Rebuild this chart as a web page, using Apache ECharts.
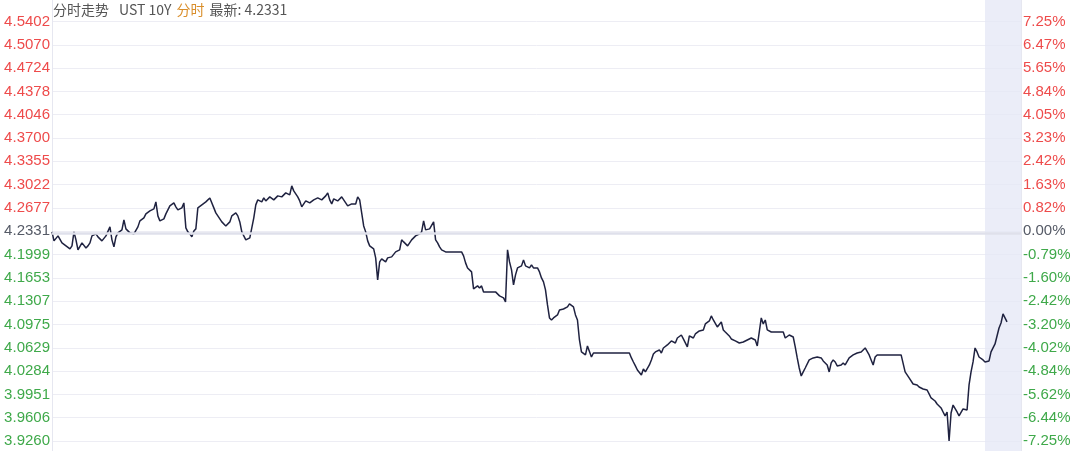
<!DOCTYPE html>
<html>
<head>
<meta charset="utf-8">
<script src="https://cdn.jsdelivr.net/npm/echarts@6/dist/echarts.min.js"></script>
<style>
html,body{margin:0;padding:0;background:#fff;}
#c{width:1080px;height:451px;}
</style>
</head>
<body>
<div id="c"></div>
<script>
// ---- data ----
const prevClose = 4.2331;
const yMin = 3.9260;
const yMax = 4.5402;
const leftTickLabels = ['4.5402','4.5070','4.4724','4.4378','4.4046','4.3700','4.3355','4.3022','4.2677','4.2331','4.1999','4.1653','4.1307','4.0975','4.0629','4.0284','3.9951','3.9606','3.9260'];
const rightTickLabels = ['7.25%','6.47%','5.65%','4.84%','4.05%','3.23%','2.42%','1.63%','0.82%','0.00%','-0.79%','-1.60%','-2.42%','-3.20%','-4.02%','-4.84%','-5.62%','-6.44%','-7.25%'];
const slotCount = 486;           // time slots across the axis
const shadeStartSlot = 467;      // shaded tail of the session
const yieldValues = [
4.2322,4.2190,4.2205,4.2263,4.2234,4.2161,4.2175,4.2117,4.2102,4.2073,
4.2117,4.2322,4.2205,4.2058,4.2087,4.2161,4.2146,4.2087,4.2117,4.2161,
4.2263,4.2234,4.2292,4.2249,4.2249,4.2190,4.2205,4.2263,4.2249,4.2395,
4.2205,4.2102,4.2249,4.2307,4.2278,4.2351,4.2497,4.2366,4.2351,4.2307,
4.2336,4.2292,4.2307,4.2395,4.2483,4.2468,4.2527,4.2585,4.2585,4.2629,
4.2644,4.2658,4.2761,4.2556,4.2483,4.2468,4.2512,4.2585,4.2614,4.2702,
4.2717,4.2746,4.2688,4.2644,4.2629,4.2673,4.2746,4.2380,4.2322,4.2292,
4.2249,4.2336,4.2366,4.2673,4.2702,4.2717,4.2731,4.2761,4.2746,4.2819,
4.2805,4.2673,4.2600,4.2556,4.2527,4.2468,4.2468,4.2409,4.2424,4.2468,
4.2556,4.2585,4.2600,4.2556,4.2468,4.2322,4.2263,4.2205,4.2190,4.2234,
4.2263,4.2527,4.2717,4.2790,4.2790,4.2761,4.2819,4.2775,4.2775,4.2834,
4.2834,4.2790,4.2805,4.2849,4.2878,4.2834,4.2849,4.2893,4.2893,4.2863,
4.2995,4.2922,4.2878,4.2834,4.2775,4.2688,4.2688,4.2775,4.2790,4.2746,
4.2761,4.2790,4.2790,4.2819,4.2819,4.2790,4.2805,4.2849,4.2893,4.2790,
4.2731,4.2805,4.2819,4.2775,4.2775,4.2834,4.2834,4.2746,4.2702,4.2688,
4.2731,4.2717,4.2731,4.2834,4.2790,4.2600,4.2409,4.2322,4.2190,4.2117,
4.2131,4.2073,4.1941,4.1619,4.1882,4.1926,4.1912,4.1882,4.1941,4.1926,
4.1956,4.1985,4.2029,4.2014,4.2058,4.2205,4.2175,4.2146,4.2117,4.2102,
4.2205,4.2234,4.2263,4.2263,4.2292,4.2322,4.2483,4.2351,4.2336,4.2366,
4.2380,4.2468,4.2205,4.2161,4.2102,4.2058,4.2043,4.2029,4.2029,4.2029,
4.2029,4.2029,4.2029,4.2029,4.2029,4.2029,4.1970,4.1868,4.1794,4.1765,
4.1736,4.1487,4.1458,4.1531,4.1501,4.1531,4.1443,4.1443,4.1443,4.1443,
4.1443,4.1443,4.1443,4.1472,4.1385,4.1399,4.1355,4.1296,4.2058,4.1882,
4.1765,4.1545,4.1692,4.1794,4.1765,4.1824,4.1912,4.1824,4.1824,4.1794,
4.1839,4.1794,4.1765,4.1794,4.1736,4.1648,4.1589,4.1472,4.1252,4.1062,
4.1032,4.1062,4.1091,4.1106,4.1179,4.1150,4.1193,4.1208,4.1223,4.1267,
4.1252,4.1223,4.1106,4.1032,4.0739,4.0564,4.0564,4.0520,4.0651,4.0622,
4.0490,4.0549,4.0549,4.0549,4.0549,4.0549,4.0549,4.0549,4.0549,4.0549,
4.0549,4.0549,4.0549,4.0549,4.0549,4.0549,4.0549,4.0549,4.0549,4.0549,
4.0476,4.0417,4.0359,4.0300,4.0271,4.0227,4.0315,4.0271,4.0286,4.0373,
4.0447,4.0534,4.0564,4.0593,4.0593,4.0549,4.0622,4.0593,4.0666,4.0695,
4.0725,4.0739,4.0695,4.0768,4.0783,4.0812,4.0754,4.0783,4.0637,4.0798,
4.0812,4.0768,4.0827,4.0856,4.0871,4.0842,4.0886,4.0974,4.0988,4.1018,
4.1091,4.1032,4.1003,4.0930,4.0944,4.1003,4.0886,4.0856,4.0842,4.0798,
4.0754,4.0768,4.0725,4.0710,4.0695,4.0710,4.0710,4.0695,4.0739,4.0768,
4.0768,4.0754,4.0739,4.0651,4.0637,4.1062,4.0974,4.1032,4.0886,4.0915,
4.0856,4.0856,4.0856,4.0856,4.0856,4.0856,4.0856,4.0768,4.0768,4.0812,
4.0827,4.0783,4.0637,4.0476,4.0329,4.0212,4.0271,4.0329,4.0344,4.0447,
4.0461,4.0476,4.0490,4.0490,4.0476,4.0476,4.0432,4.0417,4.0373,4.0271,
4.0403,4.0447,4.0417,4.0359,4.0344,4.0373,4.0403,4.0373,4.0388,4.0476,
4.0490,4.0520,4.0505,4.0549,4.0549,4.0564,4.0578,4.0622,4.0593,4.0520,
4.0505,4.0373,4.0490,4.0520,4.0520,4.0520,4.0520,4.0520,4.0520,4.0520,
4.0520,4.0520,4.0520,4.0520,4.0520,4.0520,4.0520,4.0271,4.0227,4.0183,
4.0154,4.0095,4.0066,4.0081,4.0051,4.0037,4.0022,4.0037,4.0007,3.9949,
3.9890,3.9875,3.9846,3.9802,3.9787,3.9744,3.9685,3.9627,3.9685,3.9262,
3.9670,3.9787,3.9802,3.9685,3.9627,3.9656,3.9729,3.9744,3.9714,4.0081,
4.0271,4.0417,4.0622,4.0564,4.0490,4.0476,4.0447,4.0417,4.0388,4.0432,
4.0564,4.0593,4.0681,4.0710,4.0915,4.0988,4.1120,4.1062,4.1003
];
// ---- chart ----
const slots = Array.from({length: slotCount}, (_, i) => String(i));
const RED = '#ee4b4b', GREEN = '#3fa94a', GRAY = '#555a66';
const midIdx = 9;
function tickColor(i){ return i < midIdx ? RED : (i === midIdx ? GRAY : GREEN); }
const FONT = '"Liberation Sans", Arial, sans-serif';
const CJK = '"Noto Sans CJK SC", "Liberation Sans", sans-serif';
const nT = leftTickLabels.length - 1;

const chart = echarts.init(document.getElementById('c'), null, {renderer: 'canvas'});
chart.setOption({
  animation: false,
  backgroundColor: '#ffffff',
  title: {
    left: 53, top: 1, padding: 0,
    text: '{a|分时走势}  {a|UST 10Y} {b|分时} {a|最新: 4.2331}',
    textStyle: {
      fontWeight: 'normal',
      rich: {
        a: {color: '#555555', fontSize: 14, fontWeight: 'normal', fontFamily: CJK},
        b: {color: '#d98e2b', fontSize: 14, fontWeight: 'normal', fontFamily: CJK}
      }
    }
  },
  grid: [
    {left: 52, right: 59, top: 21.5, bottom: 10, containLabel: false},
    {left: 52, right: 59, top: 0, bottom: 0, containLabel: false}
  ],
  xAxis: [
    {type: 'category', gridIndex: 0, data: slots, boundaryGap: false, show: false},
    {type: 'category', gridIndex: 1, data: slots, boundaryGap: false, show: false}
  ],
  yAxis: [
    { // left tick labels
      type: 'value', gridIndex: 0, position: 'left', min: 0, max: nT, interval: 1,
      axisLine: {show: false}, axisTick: {show: false},
      splitLine: {show: true, lineStyle: {color: '#ededf4', width: 1}},
      axisLabel: {
        margin: 2, fontSize: 15, fontFamily: FONT,
        formatter: v => leftTickLabels[nT - v],
        color: (v) => tickColor(nT - v)
      }
    },
    { // right tick labels
      type: 'value', gridIndex: 0, position: 'right', min: 0, max: nT, interval: 1,
      axisLine: {show: false}, axisTick: {show: false}, splitLine: {show: false},
      axisLabel: {
        margin: 2, fontSize: 15, fontFamily: FONT,
        formatter: v => rightTickLabels[nT - v],
        color: (v) => tickColor(nT - v)
      }
    },
    { // price scale for the series
      type: 'value', gridIndex: 0, min: yMin, max: yMax, show: false, splitLine: {show: false}
    },
    { // frame left
      type: 'value', gridIndex: 1, position: 'left', min: 0, max: 1,
      axisLine: {show: true, lineStyle: {color: '#e6e7f0'}}, axisTick: {show: false},
      axisLabel: {show: false}, splitLine: {show: false}
    },
    { // frame right
      type: 'value', gridIndex: 1, position: 'right', min: 0, max: 1,
      axisLine: {show: true, lineStyle: {color: '#e6e7f0'}}, axisTick: {show: false},
      axisLabel: {show: false}, splitLine: {show: false}
    }
  ],
  series: [
    {
      type: 'line', xAxisIndex: 1, yAxisIndex: 3, data: [], silent: true,
      markArea: {
        silent: true,
        itemStyle: {color: 'rgba(228,231,245,0.75)'},
        data: [[{xAxis: String(shadeStartSlot)}, {xAxis: String(slotCount - 1)}]]
      }
    },
    {
      type: 'line', xAxisIndex: 0, yAxisIndex: 2, data: yieldValues,
      showSymbol: false, symbol: 'none',
      lineStyle: {color: '#1f2240', width: 1.5},
      markLine: {
        silent: true, symbol: 'none', label: {show: false},
        lineStyle: {color: '#dfe0eb', width: 2.5, type: 'solid'},
        data: [{yAxis: prevClose}]
      },
      z: 3
    }
  ]
});
</script>
</body>
</html>
